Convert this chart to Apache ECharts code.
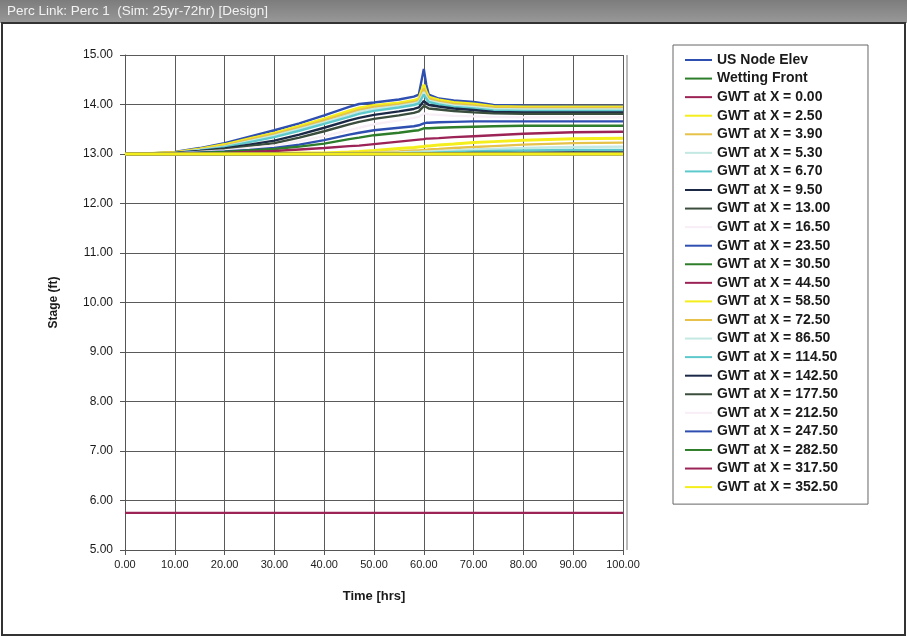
<!DOCTYPE html>
<html>
<head>
<meta charset="utf-8">
<script src="https://cdn.jsdelivr.net/npm/echarts@6/dist/echarts.min.js"></script>
<style>
html,body{margin:0;padding:0;background:#fff;}
#chart{width:907px;height:637px;}
</style>
</head>
<body>
<div id="chart"></div>
<script>
// ---- data ----
const titleText = 'Perc Link: Perc 1  (Sim: 25yr-72hr) [Design]';
const xTicks = [0, 10, 20, 30, 40, 50, 60, 70, 80, 90, 100];
const yTicks = [5, 6, 7, 8, 9, 10, 11, 12, 13, 14, 15];
const timeHrs = [0, 5, 10, 15, 20, 25, 30, 35, 40, 45, 47, 50, 55, 58, 59, 60, 60.5, 61, 63, 66, 70, 74, 80, 90, 100];

const seriesNames = ['US Node Elev', 'Wetting Front',
  'GWT at X = 0.00', 'GWT at X = 2.50', 'GWT at X = 3.90', 'GWT at X = 5.30', 'GWT at X = 6.70',
  'GWT at X = 9.50', 'GWT at X = 13.00', 'GWT at X = 16.50', 'GWT at X = 23.50', 'GWT at X = 30.50',
  'GWT at X = 44.50', 'GWT at X = 58.50', 'GWT at X = 72.50', 'GWT at X = 86.50', 'GWT at X = 114.50',
  'GWT at X = 142.50', 'GWT at X = 177.50', 'GWT at X = 212.50', 'GWT at X = 247.50', 'GWT at X = 282.50',
  'GWT at X = 317.50', 'GWT at X = 352.50'];

const usNodeElev = [13.00,13.01,13.04,13.12,13.22,13.35,13.48,13.62,13.78,13.95,14.01,14.04,14.10,14.16,14.20,14.72,14.40,14.20,14.12,14.08,14.05,13.99,13.98,13.97,13.97];
const wettingFront = [13.00,13.00,13.00,13.00,13.00,13.00,13.00,13.00,13.00,13.00,13.00,13.00,13.00,13.00,13.00,13.00,13.00,13.00,13.00,13.00,13.00,13.00,13.00,13.00,13.00];
const gwt000 = [5.75,5.75,5.75,5.75,5.75,5.75,5.75,5.75,5.75,5.75,5.75,5.75,5.75,5.75,5.75,5.75,5.75,5.75,5.75,5.75,5.75,5.75,5.75,5.75,5.75];
const gwt250 = [13.00,13.01,13.03,13.10,13.19,13.31,13.42,13.56,13.71,13.87,13.93,13.98,14.03,14.08,14.12,14.40,14.25,14.15,14.09,14.04,14.01,13.96,13.95,13.95,13.95];
const gwt390 = [13.00,13.01,13.03,13.09,13.17,13.29,13.40,13.53,13.68,13.83,13.89,13.95,14.00,14.05,14.08,14.32,14.20,14.12,14.06,14.01,13.98,13.94,13.93,13.93,13.93];
const gwt530 = [13.00,13.01,13.02,13.08,13.15,13.26,13.37,13.50,13.64,13.79,13.85,13.91,13.97,14.02,14.05,14.25,14.15,14.08,14.03,13.98,13.95,13.91,13.90,13.90,13.90];
const gwt670 = [13.00,13.00,13.02,13.07,13.14,13.24,13.34,13.47,13.61,13.75,13.81,13.87,13.94,13.99,14.02,14.20,14.12,14.05,14.00,13.95,13.92,13.88,13.87,13.87,13.87];
const gwt950 = [13.00,13.00,13.02,13.06,13.11,13.19,13.27,13.39,13.53,13.68,13.73,13.79,13.86,13.91,13.94,14.07,14.03,13.99,13.96,13.92,13.89,13.85,13.84,13.84,13.84];
const gwt1300 = [13.00,13.00,13.01,13.05,13.09,13.16,13.22,13.33,13.46,13.60,13.65,13.71,13.78,13.83,13.86,13.97,13.95,13.92,13.90,13.87,13.84,13.82,13.81,13.81,13.81];
const gwt1650 = [13.00,13.00,13.01,13.04,13.07,13.12,13.17,13.26,13.36,13.48,13.53,13.60,13.68,13.73,13.75,13.82,13.81,13.80,13.79,13.77,13.76,13.75,13.74,13.74,13.74];
const gwt2350 = [13.00,13.00,13.01,13.03,13.05,13.08,13.12,13.19,13.28,13.39,13.43,13.48,13.53,13.56,13.58,13.62,13.63,13.63,13.64,13.65,13.66,13.66,13.66,13.66,13.66];
const gwt3050 = [13.00,13.00,13.00,13.02,13.04,13.07,13.10,13.15,13.21,13.30,13.33,13.38,13.43,13.47,13.48,13.52,13.52,13.52,13.53,13.54,13.55,13.56,13.57,13.57,13.57];
const gwt4450 = [13.00,13.00,13.00,13.01,13.02,13.04,13.06,13.09,13.12,13.16,13.17,13.20,13.25,13.28,13.29,13.30,13.31,13.31,13.32,13.34,13.36,13.38,13.41,13.44,13.45];
const gwt5850 = [13.00,13.00,13.00,13.00,13.00,13.01,13.01,13.02,13.02,13.04,13.05,13.07,13.11,13.13,13.14,13.15,13.16,13.16,13.18,13.20,13.23,13.25,13.28,13.31,13.32];
const gwt7250 = [13.00,13.00,13.00,13.00,13.00,13.00,13.00,13.01,13.01,13.02,13.02,13.03,13.05,13.07,13.07,13.08,13.08,13.09,13.10,13.12,13.14,13.16,13.19,13.22,13.23];
const gwt8650 = [13.00,13.00,13.00,13.00,13.00,13.00,13.00,13.00,13.01,13.01,13.01,13.02,13.03,13.04,13.04,13.05,13.05,13.05,13.06,13.07,13.09,13.10,13.12,13.14,13.15];
const gwt11450 = [13.00,13.00,13.00,13.00,13.00,13.00,13.00,13.00,13.00,13.00,13.00,13.01,13.01,13.02,13.02,13.02,13.02,13.02,13.03,13.04,13.05,13.06,13.07,13.08,13.08];
const gwt14250 = [13.00,13.00,13.00,13.00,13.00,13.00,13.00,13.00,13.00,13.00,13.00,13.00,13.00,13.00,13.00,13.01,13.01,13.01,13.01,13.01,13.02,13.02,13.02,13.03,13.03];
const gwt17750 = [13.00,13.00,13.00,13.00,13.00,13.00,13.00,13.00,13.00,13.00,13.00,13.00,13.00,13.00,13.00,13.00,13.00,13.00,13.00,13.00,13.01,13.01,13.01,13.01,13.01];
const gwt21250 = [13.00,13.00,13.00,13.00,13.00,13.00,13.00,13.00,13.00,13.00,13.00,13.00,13.00,13.00,13.00,13.00,13.00,13.00,13.00,13.00,13.00,13.00,13.00,13.00,13.00];
const gwt24750 = [13.00,13.00,13.00,13.00,13.00,13.00,13.00,13.00,13.00,13.00,13.00,13.00,13.00,13.00,13.00,13.00,13.00,13.00,13.00,13.00,13.00,13.00,13.00,13.00,13.00];
const gwt28250 = [13.00,13.00,13.00,13.00,13.00,13.00,13.00,13.00,13.00,13.00,13.00,13.00,13.00,13.00,13.00,13.00,13.00,13.00,13.00,13.00,13.00,13.00,13.00,13.00,13.00];
const gwt31750 = [13.00,13.00,13.00,13.00,13.00,13.00,13.00,13.00,13.00,13.00,13.00,13.00,13.00,13.00,13.00,13.00,13.00,13.00,13.00,13.00,13.00,13.00,13.00,13.00,13.00];
const gwt35250 = [13.00,13.00,13.00,13.00,13.00,13.00,13.00,13.00,13.00,13.00,13.00,13.00,13.00,13.00,13.00,13.00,13.00,13.00,13.00,13.00,13.00,13.00,13.00,13.00,13.00];

const seriesValues = [usNodeElev, wettingFront, gwt000, gwt250, gwt390, gwt530, gwt670, gwt950, gwt1300, gwt1650,
  gwt2350, gwt3050, gwt4450, gwt5850, gwt7250, gwt8650, gwt11450, gwt14250, gwt17750, gwt21250,
  gwt24750, gwt28250, gwt31750, gwt35250];

// ---- styles ----
const palette = ['#2f4fb0', '#2e7d2a', '#9c2356', '#f4ee1c', '#e6c24a', '#c4e8e2', '#5ec9cc', '#1c2946', '#3b4d3c', '#f8eef6'];
const FONT = '"Liberation Sans", Arial, sans-serif';

const series = seriesNames.map((name, i) => {
  const color = palette[i % palette.length];
  const isYellow = color === '#f4ee1c';
  return {
    name: name,
    type: 'line',
    symbol: 'none',
    showSymbol: false,
    smooth: false,
    color: color,
    lineStyle: { color: color, width: isYellow ? 3 : 2.4 },
    emphasis: { disabled: true },
    data: timeHrs.map((t, k) => [t, seriesValues[i][k]])
  };
});

const chart = echarts.init(document.getElementById('chart'), null, { renderer: 'canvas' });
chart.setOption({
  animation: false,
  backgroundColor: '#ffffff',
  grid: { left: 125, right: 284, top: 55, bottom: 87, containLabel: false },
  xAxis: {
    type: 'value', min: xTicks[0], max: xTicks[xTicks.length - 1], interval: 10,
    name: 'Time [hrs]', nameLocation: 'middle', nameGap: 40,
    nameTextStyle: { fontFamily: FONT, fontSize: 13, fontWeight: 'bold', color: '#1a1a1a' },
    axisLine: { show: true, lineStyle: { color: '#555', width: 1 } },
    axisTick: { show: true, inside: false, length: 5, lineStyle: { color: '#555' } },
    axisLabel: { fontFamily: FONT, fontSize: 11, color: '#222', margin: 9,
      formatter: v => v.toFixed(2) },
    splitLine: { show: true, lineStyle: { color: '#5a5a5a', width: 1 } }
  },
  yAxis: {
    type: 'value', min: yTicks[0], max: yTicks[yTicks.length - 1], interval: 1,
    name: 'Stage (ft)', nameLocation: 'middle', nameGap: 65, nameRotate: 90,
    nameTextStyle: { fontFamily: FONT, fontSize: 12, fontWeight: 'bold', color: '#1a1a1a' },
    axisLine: { show: true, lineStyle: { color: '#555', width: 1 } },
    axisTick: { show: true, inside: false, length: 5, lineStyle: { color: '#555' } },
    axisLabel: { fontFamily: FONT, fontSize: 12, color: '#1a1a1a', margin: 12,
      formatter: v => v.toFixed(2) },
    splitLine: { show: true, lineStyle: { color: '#5a5a5a', width: 1 } }
  },
  legend: {
    orient: 'vertical', left: 673, top: 45,
    data: seriesNames,
    icon: 'rect',
    backgroundColor: '#ffffff',
    borderColor: '#666', borderWidth: 1,
    padding: [8, 30, 10, 12],
    itemWidth: 27, itemHeight: 2, itemGap: 4.57,
    selectedMode: false,
    textStyle: { fontFamily: FONT, fontSize: 14, fontWeight: 'bold', color: '#1a1a1a', lineHeight: 14, height: 14 }
  },
  graphic: [
    { type: 'rect', left: 0, top: 0, shape: { x: 0, y: 0, width: 907, height: 23 },
      style: { fill: new echarts.graphic.LinearGradient(0, 0, 0, 1, [{ offset: 0, color: '#7c7c7c' }, { offset: 1, color: '#999999' }]) }, silent: true },
    { type: 'text', left: 7, top: 4, style: { text: titleText, fill: '#f2f2f2', font: '13.5px "Liberation Sans", Arial, sans-serif' }, silent: true },
    { type: 'rect', shape: { x: 2, y: 23, width: 903, height: 612 }, style: { fill: 'none', stroke: '#333', lineWidth: 2 }, silent: true },
    { type: 'line', shape: { x1: 627, y1: 55, x2: 627, y2: 550 }, style: { stroke: '#777', lineWidth: 1 }, silent: true }
  ],
  series: series
});
</script>
</body>
</html>
